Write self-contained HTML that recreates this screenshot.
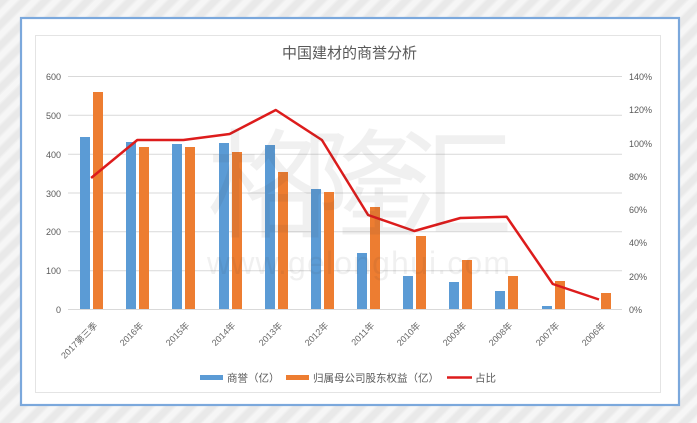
<!DOCTYPE html>
<html><head><meta charset="utf-8"><style>
html,body{margin:0;padding:0;width:697px;height:423px;overflow:hidden;}
body{background:#eeeeee;background-image:repeating-linear-gradient(135deg,#e9e9e9 0px,#e9e9e9 5px,#f6f6f6 8px,#f6f6f6 12px,#e9e9e9 15px);}
svg{position:absolute;left:0;top:0;}
text{font-family:"Liberation Sans","Noto Sans CJK SC",sans-serif;}
</style></head><body>
<svg width="697" height="423" viewBox="0 0 697 423" xmlns="http://www.w3.org/2000/svg">
<rect x="21" y="18" width="658" height="387" fill="#ffffff" stroke="#7ba8dc" stroke-width="2.2"/>
<rect x="35.5" y="35.5" width="625" height="357" fill="#ffffff" stroke="#e4e4e4" stroke-width="1"/>
<g stroke="#d9d9d9" stroke-width="1">
<line x1="68" x2="622" y1="76.5" y2="76.5"/>
<line x1="68" x2="622" y1="115.3" y2="115.3"/>
<line x1="68" x2="622" y1="154.2" y2="154.2"/>
<line x1="68" x2="622" y1="193" y2="193"/>
<line x1="68" x2="622" y1="231.8" y2="231.8"/>
<line x1="68" x2="622" y1="270.7" y2="270.7"/>
<line x1="68" x2="622" y1="309.5" y2="309.5"/>
</g>
<text x="349.5" y="58" font-size="15" fill="#595959" text-anchor="middle">中国建材的商誉分析</text>
<g font-size="9" fill="#595959" text-anchor="end">
<text x="61" y="80">600</text>
<text x="61" y="119">500</text>
<text x="61" y="158">400</text>
<text x="61" y="197">300</text>
<text x="61" y="235">200</text>
<text x="61" y="274">100</text>
<text x="61" y="313">0</text>
</g>
<g font-size="9" fill="#595959">
<text x="629" y="80">140%</text>
<text x="629" y="113">120%</text>
<text x="629" y="147">100%</text>
<text x="629" y="180">80%</text>
<text x="629" y="213">60%</text>
<text x="629" y="246">40%</text>
<text x="629" y="280">20%</text>
<text x="629" y="313">0%</text>
</g>
<g fill="#5b9bd5">
<rect x="80" y="137" width="10" height="172"/>
<rect x="126" y="142" width="10" height="167"/>
<rect x="172" y="144" width="10" height="165"/>
<rect x="219" y="143" width="10" height="166"/>
<rect x="265" y="145" width="10" height="164"/>
<rect x="311" y="189" width="10" height="120"/>
<rect x="357" y="253" width="10" height="56"/>
<rect x="403" y="276" width="10" height="33"/>
<rect x="449" y="282" width="10" height="27"/>
<rect x="495" y="291" width="10" height="18"/>
<rect x="542" y="306" width="10" height="3"/>
</g>
<g fill="#ed7d31">
<rect x="93" y="92" width="10" height="217"/>
<rect x="139" y="147" width="10" height="162"/>
<rect x="185" y="147" width="10" height="162"/>
<rect x="232" y="152" width="10" height="157"/>
<rect x="278" y="172" width="10" height="137"/>
<rect x="324" y="192" width="10" height="117"/>
<rect x="370" y="207" width="10" height="102"/>
<rect x="416" y="236" width="10" height="73"/>
<rect x="462" y="260" width="10" height="49"/>
<rect x="508" y="276" width="10" height="33"/>
<rect x="555" y="281" width="10" height="28"/>
<rect x="601" y="293" width="10" height="16"/>
</g>
<polyline fill="none" stroke="#dd1c1c" stroke-width="2.5" stroke-linejoin="round" points="91.1,178 137.3,140 183.4,140 229.6,134 275.8,110 321.9,140 368.1,215 414.3,231 460.4,218 506.6,216.7 552.8,284 599,299.5"/>
<g font-size="9" fill="#666666" text-anchor="end">
<text transform="translate(98,326) rotate(-45)">2017第三季</text>
<text transform="translate(144,326) rotate(-45)">2016年</text>
<text transform="translate(190,326) rotate(-45)">2015年</text>
<text transform="translate(236,326) rotate(-45)">2014年</text>
<text transform="translate(283,326) rotate(-45)">2013年</text>
<text transform="translate(329,326) rotate(-45)">2012年</text>
<text transform="translate(375,326) rotate(-45)">2011年</text>
<text transform="translate(421,326) rotate(-45)">2010年</text>
<text transform="translate(467,326) rotate(-45)">2009年</text>
<text transform="translate(513,326) rotate(-45)">2008年</text>
<text transform="translate(560,326) rotate(-45)">2007年</text>
<text transform="translate(606,326) rotate(-45)">2006年</text>
</g>
<rect x="200" y="375" width="23" height="5" fill="#5b9bd5"/>
<text x="227" y="381.5" font-size="10.5" fill="#595959">商誉（亿）</text>
<rect x="286" y="375" width="23" height="5" fill="#ed7d31"/>
<text x="313" y="381.5" font-size="10.5" fill="#595959">归属母公司股东权益（亿）</text>
<line x1="447" x2="472" y1="377.5" y2="377.5" stroke="#dd1c1c" stroke-width="2.5"/>
<text x="475" y="381.5" font-size="10.5" fill="#595959">占比</text>
<g opacity="0.065" fill="#333">
<text x="360" y="228" font-size="118" text-anchor="middle" textLength="306" style="font-family:'Noto Sans CJK SC',sans-serif">格隆汇</text>
<text x="207" y="274" font-size="32" textLength="303">www.gelonghui.com</text>
</g>
</svg>
</body></html>
